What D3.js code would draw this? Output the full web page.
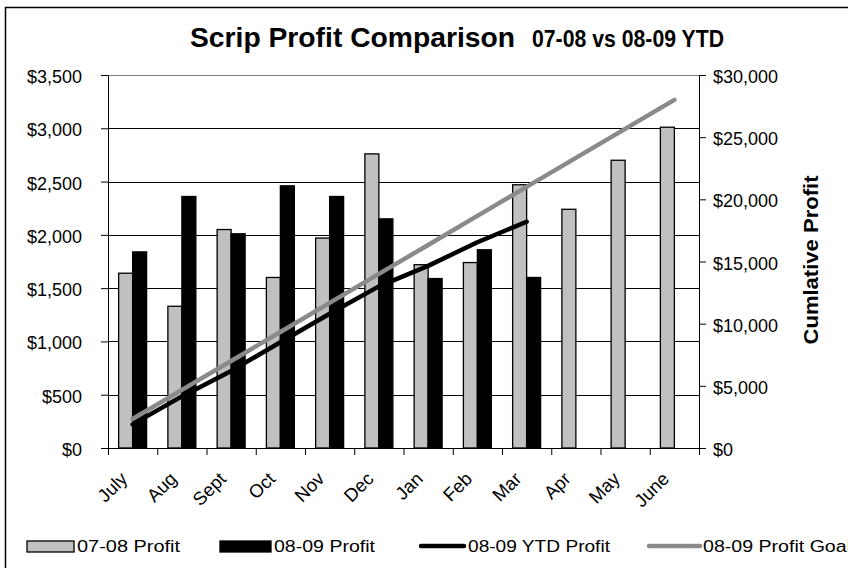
<!DOCTYPE html>
<html>
<head>
<meta charset="utf-8">
<script src="https://cdn.jsdelivr.net/npm/d3@7"></script>
<style>
    body { margin: 0; background: #fff; }
    svg { display: block; font-family: "Liberation Sans", Arial, sans-serif; }
</style>
</head>
<body>
<div class="plot"></div>
<script>
// chart data
var months = ["July", "Aug", "Sept", "Oct", "Nov", "Dec", "Jan", "Feb", "Mar", "Apr", "May", "June"];
var profit0708 = [1640, 1330, 2050, 1600, 1970, 2760, 1720, 1740, 2470, 2240, 2700, 3010];
var profit0809 = [1840, 2360, 2010, 2460, 2360, 2150, 1590, 1860, 1600];
var ytd0809 = [1900, 4150, 6200, 8500, 10800, 13000, 14650, 16550, 18200];
var goal0809 = [2330, 4670, 7000, 9330, 11670, 14000, 16330, 18670, 21000, 23330, 25670, 28000];
var leftTicks = [0, 500, 1000, 1500, 2000, 2500, 3000, 3500];
var rightTicks = [0, 5000, 10000, 15000, 20000, 25000, 30000];

var svgWidth = 848;
var svgHeight = 568;

// plot area in page pixels
var plot = { left: 108, right: 699, top: 75, bottom: 448 };

var svg = d3.select(".plot")
    .append("svg")
    .attr("width", svgWidth)
    .attr("height", svgHeight);

// outer chart border (only top and left are in view)
svg.append("rect")
    .attr("x", 5.5)
    .attr("y", 7.5)
    .attr("width", 900)
    .attr("height", 600)
    .attr("fill", "#fff")
    .attr("stroke", "#000")
    .attr("stroke-width", 1.5);

// scales
var xBand = d3.scaleBand()
    .domain(months)
    .range([plot.left, plot.right]);

var xInner = d3.scaleBand()
    .domain(["a", "b"])
    .range([0, xBand.bandwidth()])
    .paddingOuter(0.76);

var xIndex = d3.scaleLinear()
    .domain([0, months.length])
    .range([plot.left, plot.right]);

var yLeft = d3.scaleLinear()
    .domain([0, 3500])
    .range([plot.bottom, plot.top]);

var yRight = d3.scaleLinear()
    .domain([0, 30000])
    .range([plot.bottom, plot.top]);

var money = d3.format(",");

// gridlines
svg.append("g")
    .selectAll("line")
    .data(leftTicks.slice(1))
    .enter()
    .append("line")
    .attr("x1", plot.left)
    .attr("x2", plot.right)
    .attr("y1", d => Math.round(yLeft(d)) + 0.5)
    .attr("y2", d => Math.round(yLeft(d)) + 0.5)
    .attr("stroke", d => d == 3500 ? "#808080" : "#000")
    .attr("stroke-width", 1);

// bars 07-08
svg.append("g")
    .selectAll("rect")
    .data(profit0708)
    .enter()
    .append("rect")
    .attr("x", (d, i) => xBand(months[i]) + xInner("a"))
    .attr("y", d => yLeft(d))
    .attr("width", xInner.bandwidth())
    .attr("height", d => yLeft(0) - yLeft(d))
    .attr("fill", "#c0c0c0")
    .attr("stroke", "#000")
    .attr("stroke-width", 1.3);

// bars 08-09
svg.append("g")
    .selectAll("rect")
    .data(profit0809)
    .enter()
    .append("rect")
    .attr("x", (d, i) => xBand(months[i]) + xInner("b"))
    .attr("y", d => yLeft(d))
    .attr("width", xInner.bandwidth())
    .attr("height", d => yLeft(0) - yLeft(d))
    .attr("fill", "#000")
    .attr("stroke", "#000")
    .attr("stroke-width", 1.3);

// lines on the right axis
var line = d3.line()
    .x((d, i) => xBand(months[i]) + xBand.bandwidth() / 2)
    .y(d => yRight(d));

svg.append("path")
    .datum(goal0809)
    .attr("d", line)
    .attr("fill", "none")
    .attr("stroke", "#8a8a8a")
    .attr("stroke-width", 4.5)
    .attr("stroke-linecap", "round");

svg.append("path")
    .datum(ytd0809)
    .attr("d", line)
    .attr("fill", "none")
    .attr("stroke", "#000")
    .attr("stroke-width", 4.5)
    .attr("stroke-linecap", "round")
    .attr("stroke-linejoin", "round");

// axes
var leftAxis = d3.axisLeft(yLeft)
    .tickValues(leftTicks)
    .tickFormat(d => "$" + money(d))
    .tickSize(7)
    .tickSizeOuter(0)
    .tickPadding(19);

var rightAxis = d3.axisRight(yRight)
    .tickValues(rightTicks)
    .tickFormat(d => "$" + money(d))
    .tickSize(7)
    .tickSizeOuter(0)
    .tickPadding(7);

var bottomAxis = d3.axisBottom(xIndex)
    .tickValues(d3.range(months.length + 1))
    .tickFormat("")
    .tickSize(7)
    .tickSizeOuter(0);

svg.append("g")
    .attr("transform", `translate(${plot.left}, 0)`)
    .call(leftAxis);

svg.append("g")
    .attr("transform", `translate(${plot.right}, 0)`)
    .call(rightAxis);

svg.append("g")
    .attr("transform", `translate(0, ${plot.bottom})`)
    .call(bottomAxis);

svg.selectAll(".tick text")
    .attr("font-size", 18)
    .attr("font-family", "Liberation Sans, Arial, sans-serif")
    .attr("fill", "#000")
    .attr("dy", "0.42em");

svg.selectAll(".domain, .tick line")
    .attr("stroke", "#000")
    .attr("stroke-width", 1);

// month labels, rotated
svg.append("g")
    .selectAll("text")
    .data(months)
    .enter()
    .append("text")
    .attr("transform", d => `translate(${xBand(d) + xBand.bandwidth() / 2 - 4}, 480) rotate(-45)`)
    .attr("text-anchor", "end")
    .attr("font-size", 18.5)
    .text(d => d);

// titles
svg.append("text")
    .attr("x", 190)
    .attr("y", 47)
    .attr("font-size", 28.5)
    .attr("font-weight", "bold")
    .attr("textLength", 325)
    .attr("lengthAdjust", "spacingAndGlyphs")
    .text("Scrip Profit Comparison");

svg.append("text")
    .attr("x", 532)
    .attr("y", 47)
    .attr("font-size", 24)
    .attr("font-weight", "bold")
    .attr("textLength", 192)
    .attr("lengthAdjust", "spacingAndGlyphs")
    .text("07-08 vs 08-09 YTD");

svg.append("text")
    .attr("transform", "translate(818, 260) rotate(-90)")
    .attr("text-anchor", "middle")
    .attr("font-size", 20)
    .attr("font-weight", "bold")
    .attr("textLength", 169)
    .attr("lengthAdjust", "spacingAndGlyphs")
    .text("Cumlative Profit");

// legend
var legendY = 546;
var legendItems = [
    { type: "bar", fill: "#c0c0c0", x0: 27, x1: 74, label: "07-08 Profit", tx: 77, tw: 103 },
    { type: "bar", fill: "#000", x0: 220, x1: 271, label: "08-09 Profit", tx: 274, tw: 101 },
    { type: "line", fill: "#000", x0: 421, x1: 464, label: "08-09 YTD Profit", tx: 468, tw: 142 },
    { type: "line", fill: "#8a8a8a", x0: 649, x1: 700, label: "08-09 Profit Goal", tx: 703, tw: 148 }
];

var legend = svg.append("g");

legendItems.forEach(function (item) {
    if (item.type == "bar") {
        legend.append("rect")
            .attr("x", item.x0)
            .attr("y", legendY - 5)
            .attr("width", item.x1 - item.x0)
            .attr("height", 11)
            .attr("fill", item.fill)
            .attr("stroke", "#000")
            .attr("stroke-width", 1.3);
    } else {
        legend.append("line")
            .attr("x1", item.x0)
            .attr("x2", item.x1)
            .attr("y1", legendY)
            .attr("y2", legendY)
            .attr("stroke", item.fill)
            .attr("stroke-width", 4.5)
            .attr("stroke-linecap", "round");
    }
    legend.append("text")
        .attr("x", item.tx)
        .attr("y", legendY + 6)
        .attr("font-size", 16)
        .attr("textLength", item.tw)
        .attr("lengthAdjust", "spacingAndGlyphs")
        .text(item.label);
});
</script>
</body>
</html>
